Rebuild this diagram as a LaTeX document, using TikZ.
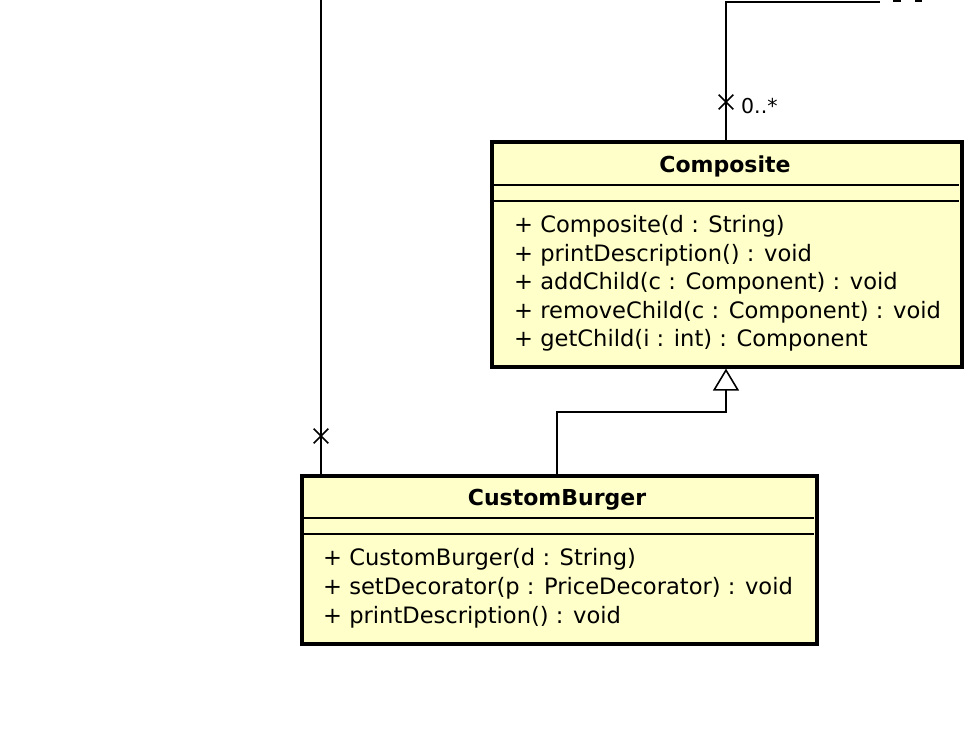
\documentclass[tikz,border=0pt]{standalone}
\usepackage{fontspec}
\setmainfont{DejaVu Sans}
\usetikzlibrary{arrows.meta,shapes.misc}
\definecolor{umlfill}{HTML}{FFFFCA}
\tikzset{
  umlbox/.style={draw=black, line width=3.6pt, fill=umlfill, anchor=north west, inner sep=0pt},
  title/.style={font=\fontsize{22}{26}\selectfont\bfseries, anchor=center, inner sep=0pt},
  member/.style={font=\fontsize{22.6}{26}\selectfont, anchor=west, inner sep=0pt},
  conn/.style={draw=black, line width=1.6pt},
  xmark/.style={cross out, draw=black, line width=1.6pt, minimum size=13pt, inner sep=0pt},
  mult/.style={font=\fontsize{20.5}{24}\selectfont, anchor=west, inner sep=0pt},
  gen/.style={conn, -{Triangle[open, width=26pt, length=22pt, line width=1.6pt]}},
}
\begin{document}
\begin{tikzpicture}[x=1pt, y=-1pt]
\useasboundingbox (0,0) rectangle (980,732);
% Composite
\node[umlbox, minimum width=470pt, minimum height=225pt] (comp) at (490,140) {};
\draw[line width=1.6pt] (491.5,185) -- (958.5,185);
\draw[line width=1.6pt] (491.5,201) -- (958.5,201);
\node[title] (comptitle) at (725,166) {Composite};
\node[member] (cm1) at (514,226) {+ Composite(d : String)};
\node[member] (cm2) at (514,255) {+ printDescription() : void};
\node[member] (cm3) at (514,283) {+ addChild(c : Component) : void};
\node[member] (cm4) at (514,312) {+ removeChild(c : Component) : void};
\node[member] (cm5) at (514,340) {+ getChild(i : int) : Component};
% CustomBurger
\node[umlbox, minimum width=515pt, minimum height=168pt] (cb) at (300,474) {};
\draw[line width=1.6pt] (301.5,518) -- (813.5,518);
\draw[line width=1.6pt] (301.5,534) -- (813.5,534);
\node[title] (cbtitle) at (557,500) {CustomBurger};
\node[member] (bm1) at (323,559) {+ CustomBurger(d : String)};
\node[member] (bm2) at (323,588) {+ setDecorator(p : PriceDecorator) : void};
\node[member] (bm3) at (323,617) {+ printDescription() : void};
% connectors
\coordinate (lefttop) at (321,0);
\draw[conn] (lefttop) -- (cb.north -| lefttop);
\node[xmark] (x1) at (321,436) {};
\coordinate (gx) at (726,0);
\coordinate (cbx) at (557,0);
\draw[gen] (cb.north -| cbx) |- (726,412) -- (comp.south -| gx);
\coordinate (topturn) at (726,2);
\coordinate (topend) at (880,2);
\draw[conn] (comp.north -| gx) -- (topturn) -- (topend);
\node[xmark] (x2) at (726,102) {};
\node[mult] (m1) at (741,106) {0..*};
\draw[line width=1.6pt] (893,0.8) -- (901,0.8);
\draw[line width=1.6pt] (915,0.8) -- (922,0.8);
\end{tikzpicture}
\end{document}
